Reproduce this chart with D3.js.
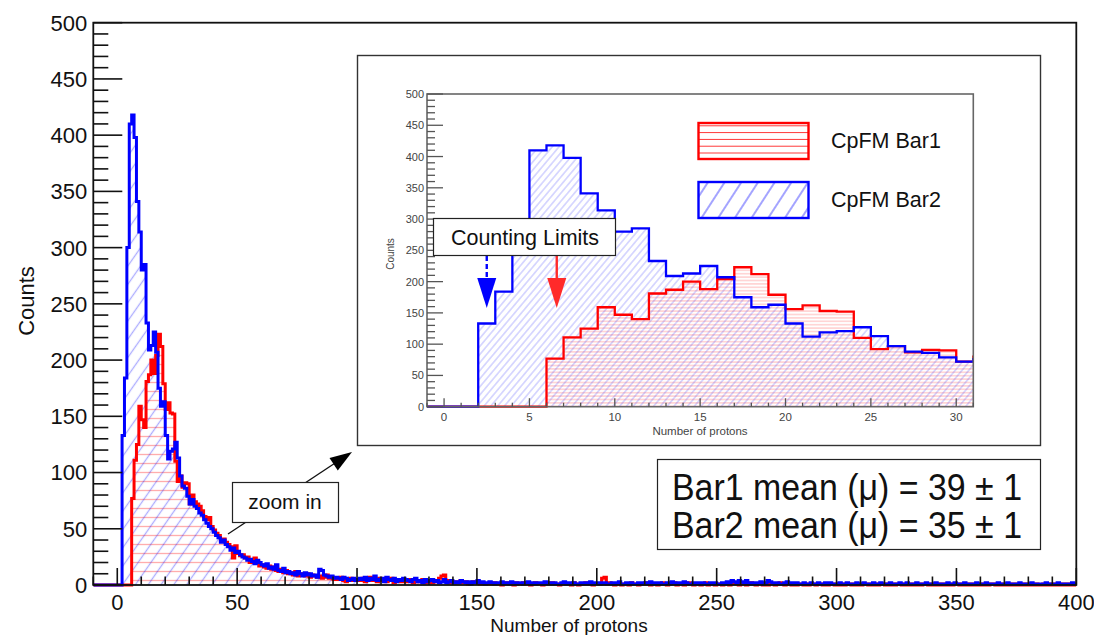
<!DOCTYPE html>
<html>
<head>
<meta charset="utf-8">
<script src="https://cdn.jsdelivr.net/npm/d3@7"></script>
<style>
  html, body { margin: 0; padding: 0; background: #fff; }
  svg { display: block; font-family: "Liberation Sans", Arial, Helvetica, sans-serif; }
</style>
</head>
<body>
<svg id="chart" width="1094" height="635"></svg>
<script>
// ---- Counts per 1-proton bin, bin i covers [i, i+1) ----
// CpFM Bar1, bins 0..30
const bar1Head = [0, 0, 0, 0, 0, 0, 77, 111, 125, 159, 147, 140, 181, 187, 200, 188,
  204, 223, 212, 179, 156, 162, 153, 152, 110, 92, 97, 87, 91, 90, 72];
// CpFM Bar1, bins 31..100
const bar1Mid = [80, 74, 72, 70, 66, 61, 58, 60, 52, 49,
  46, 44, 40, 41, 38, 36, 34, 24, 35, 28,
  26, 27, 24, 25, 20, 22, 24, 21, 17, 18,
  16, 15, 17, 14, 16, 13, 12, 14, 11, 13,
  10, 11, 9, 12, 8, 10, 9, 8, 10, 7,
  9, 8, 7, 8, 6, 7, 9, 6, 7, 5,
  6, 5, 7, 4, 3, 5, 6, 4, 5, 4];
// CpFM Bar1, bins 101..399
const bar1Tail = [4, 6, 3, 5, 7, 4, 5, 3, 6, 4, 5, 3, 4, 6, 2, 5, 4, 3, 5, 3,
  4, 5, 2, 3, 4, 3, 5, 2, 4, 3, 2, 4, 3, 6, 8, 9, 4, 2, 3, 2,
  3, 2, 4, 2, 3, 1, 2, 3, 2, 3,
  1, 2, 1, 1, 2, 1, 2, 1, 1, 0, 1, 2, 1, 1, 0, 2, 1, 1, 2, 1,
  1, 0, 1, 2, 1, 1, 0, 1, 2, 1, 2, 1, 1, 0, 1, 2, 1, 1, 0, 2,
  1, 0, 1, 1, 2, 1, 1, 0, 1, 1, 1, 6, 7, 1, 2, 1, 0, 1, 1, 0,
  1, 1, 0, 2, 1, 1, 0, 1, 1, 2, 1, 0, 1, 1, 0, 1, 2, 1, 0, 1,
  1, 2, 0, 1, 1, 0, 1, 2, 1, 0, 1, 1, 0, 1, 2, 0, 1, 1, 0, 1,
  1, 0, 1, 1, 0, 1, 2, 1, 0, 1, 1, 0, 1, 2, 1, 0, 1, 1, 0, 1,
  0, 1, 1, 0, 1, 2, 1, 0, 1, 1, 0, 1, 0, 1, 1, 0, 1, 0, 1, 1,
  0, 1, 1, 0, 1, 0, 1, 1, 0, 1, 0, 1, 0, 1, 1, 0, 1, 0, 1, 0,
  1, 1, 0, 1, 0, 1, 0, 1, 1, 0, 1, 0, 1, 0, 1, 1, 0, 1, 0, 1,
  0, 1, 0, 1, 0, 1, 1, 0, 1, 0, 1, 0, 1, 0, 1, 0, 1, 0, 1, 1,
  0, 1, 0, 1, 0, 1, 0, 1, 0, 1, 0, 1, 0, 1, 1, 0, 1, 0, 1, 0,
  1, 0, 1, 0, 1, 0, 1, 0, 1, 0, 1, 0, 1, 0, 0, 1, 0, 1, 0, 1,
  0, 1, 0, 1, 0, 1, 0, 1, 0];
// CpFM Bar2, bins 0..30
const bar2Head = [0, 0, 133, 184, 300, 410, 418, 398, 341, 314, 280, 285, 233, 209, 213, 225,
  207, 175, 159, 163, 133, 112, 119, 121, 127, 113, 97, 88, 86, 79, 72];
// CpFM Bar2, bins 31..100
const bar2Mid = [76, 70, 68, 64, 62, 58, 55, 52, 50, 47,
  44, 42, 38, 40, 36, 34, 31, 33, 29, 30,
  27, 25, 24, 22, 23, 21, 19, 22, 20, 18,
  17, 19, 15, 16, 14, 18, 13, 12, 15, 11,
  12, 10, 11, 9, 12, 10, 8, 11, 9, 10,
  8, 9, 7, 14, 13, 9, 8, 7, 8, 6,
  7, 6, 5, 7, 6, 4, 5, 6, 4, 5];
// CpFM Bar2, bins 101..399
const bar2Tail = [6, 5, 7, 4, 6, 5, 8, 4, 5, 6, 3, 7, 5, 4, 6, 3, 5, 4, 6, 5,
  4, 3, 5, 6, 3, 4, 2, 5, 3, 4, 5, 3, 4, 2, 3, 5, 2, 3, 4, 2,
  3, 2, 4, 3, 2, 3, 1, 3, 2, 4,
  2, 3, 1, 2, 3, 2, 1, 2, 2, 3, 1, 2, 1, 3, 2, 1, 2, 2, 1, 2,
  3, 1, 2, 1, 2, 2, 1, 3, 1, 2, 1, 2, 1, 1, 2, 3, 1, 2, 1, 2,
  1, 1, 2, 1, 2, 1, 3, 1, 2, 1, 2, 1, 2, 1, 1, 2, 1, 2, 3, 1,
  1, 2, 1, 2, 1, 1, 2, 1, 2, 1, 2, 3, 1, 2, 1, 2, 1, 1, 2, 1,
  3, 2, 1, 2, 1, 3, 2, 1, 1, 2, 1, 2, 1, 2, 1, 1, 2, 1, 2, 1,
  1, 2, 1, 3, 2, 4, 3, 2, 4, 3, 2, 4, 2, 1, 2, 1, 2, 3, 1, 2,
  4, 3, 2, 1, 2, 1, 1, 2, 3, 1, 2, 1, 2, 1, 1, 2, 1, 1, 2, 1,
  1, 2, 1, 1, 2, 1, 2, 1, 1, 1, 2, 1, 1, 2, 1, 1, 1, 2, 1, 1,
  2, 1, 1, 1, 2, 1, 1, 2, 1, 1, 1, 2, 1, 1, 1, 2, 1, 1, 2, 1,
  1, 1, 2, 1, 1, 1, 2, 1, 1, 1, 2, 1, 1, 1, 1, 2, 1, 1, 2, 1,
  1, 1, 2, 1, 1, 1, 1, 2, 1, 1, 1, 2, 1, 1, 1, 1, 2, 1, 1, 1,
  2, 1, 1, 1, 1, 2, 1, 1, 1, 1, 2, 1, 1, 1, 1, 1, 2, 1, 1, 1,
  1, 2, 1, 1, 1, 1, 1, 2, 1];

const seriesNames = ["CpFM Bar1", "CpFM Bar2"];
const seriesColors = ["#ff0000", "#0000ff"];
const mainXTicks = [0, 50, 100, 150, 200, 250, 300, 350, 400];
const mainYTicks = [0, 50, 100, 150, 200, 250, 300, 350, 400, 450, 500];
const insetXTicks = [0, 5, 10, 15, 20, 25, 30];
const insetYTicks = [0, 50, 100, 150, 200, 250, 300, 350, 400, 450, 500];
const countingLimits = [6.6, 2.5];          // Bar1, Bar2
const meanLines = ["Bar1 mean (\u03bc) = 39 \u00b1 1", "Bar2 mean (\u03bc) = 35 \u00b1 1"];

const bar1 = bar1Head.concat(bar1Mid, bar1Tail);
const bar2 = bar2Head.concat(bar2Mid, bar2Tail);
const series = [bar1, bar2];

const svg = d3.select("#chart");
const defs = svg.append("defs");

// hatch pattern: parallel lines, rotated by `angle` (deg, counter-clockwise)
function hatch(id, color, angle, spacing, opacity, width) {
  const p = defs.append("pattern")
    .attr("id", id)
    .attr("patternUnits", "userSpaceOnUse")
    .attr("width", spacing).attr("height", spacing)
    .attr("patternTransform", `rotate(${-angle})`);
  p.append("line")
    .attr("x1", 0).attr("x2", spacing)
    .attr("y1", spacing / 2).attr("y2", spacing / 2)
    .attr("stroke", color).attr("stroke-opacity", opacity)
    .attr("stroke-width", width);
}
hatch("hRedMain", "#ff0000", 0, 9, 0.32, 1.3);
hatch("hBlueMain", "#0000ff", 55, 10.5, 0.32, 1.3);
hatch("hRedInset", "#ff0000", 0, 3.4, 0.28, 1);
hatch("hBlueInset", "#0000ff", 50, 5.2, 0.28, 1);
hatch("hRedLegend", "#ff0000", 0, 6.8, 0.8, 1);
hatch("hBlueLegend", "#0000ff", 57, 14, 0.6, 1.2);

// step outline of a histogram starting at the axis minimum
function histPoints(counts, xStart) {
  const pts = [[xStart, 0], [0, 0]];
  counts.forEach((c, i) => { pts.push([i, c], [i + 1, c]); });
  return pts;
}

function drawHist(g, x, y, xStart, lineW, patterns, clipId) {
  const line = d3.line().x(d => x(d[0])).y(d => y(d[1]));
  const area = d3.area().x(d => x(d[0])).y0(y(0)).y1(d => y(d[1]));
  const layer = g.append("g").attr("clip-path", `url(#${clipId})`);
  series.forEach((s, k) => {
    layer.append("path").attr("d", area(histPoints(s, xStart)))
      .attr("fill", `url(#${patterns[k]})`).attr("stroke", "none");
  });
  series.forEach((s, k) => {
    layer.append("path").attr("d", line(histPoints(s, xStart)))
      .attr("fill", "none").attr("stroke", seriesColors[k])
      .attr("stroke-width", lineW).attr("stroke-linejoin", "miter");
  });
}

// ================= main frame =================
const M = { left: 93.3, right: 1076.3, top: 22.7, bottom: 585 };
const x = d3.scaleLinear().domain([-10, 400]).range([M.left, M.right]);
const y = d3.scaleLinear().domain([0, 500]).range([M.bottom, M.top]);

defs.append("clipPath").attr("id", "clipMain").append("rect")
  .attr("x", M.left).attr("y", M.top - 2)
  .attr("width", M.right - M.left).attr("height", M.bottom - M.top + 4);

const gMain = svg.append("g");
drawHist(gMain, x, y, -10, 3, ["hRedMain", "hBlueMain"], "clipMain");

// frame
gMain.append("rect").attr("x", M.left).attr("y", M.top)
  .attr("width", M.right - M.left).attr("height", M.bottom - M.top)
  .attr("fill", "none").attr("stroke", "#111").attr("stroke-width", 1.8);

// y axis ticks (inside)
const yMinor = d3.range(0, 501, 10).filter(v => v % 50 !== 0);
gMain.selectAll(".ymaj").data(mainYTicks).join("line")
  .attr("x1", M.left).attr("x2", M.left + 29)
  .attr("y1", d => y(d)).attr("y2", d => y(d))
  .attr("stroke", "#111").attr("stroke-width", 1.6);
gMain.selectAll(".ymin").data(yMinor).join("line")
  .attr("x1", M.left).attr("x2", M.left + 15)
  .attr("y1", d => y(d)).attr("y2", d => y(d))
  .attr("stroke", "#111").attr("stroke-width", 1.6);
gMain.selectAll(".ylab").data(mainYTicks).join("text")
  .attr("x", M.left - 6).attr("y", d => y(d)).attr("dy", "0.36em")
  .attr("text-anchor", "end").attr("font-size", 22).attr("fill", "#111")
  .text(d => d);

// x axis ticks (inside)
const xMinor = d3.range(-10, 401, 10).filter(v => v % 50 !== 0);
gMain.selectAll(".xmaj").data(mainXTicks).join("line")
  .attr("x1", d => x(d)).attr("x2", d => x(d))
  .attr("y1", M.bottom).attr("y2", M.bottom - 17)
  .attr("stroke", "#111").attr("stroke-width", 1.6);
gMain.selectAll(".xmin").data(xMinor).join("line")
  .attr("x1", d => x(d)).attr("x2", d => x(d))
  .attr("y1", M.bottom).attr("y2", M.bottom - 8.5)
  .attr("stroke", "#111").attr("stroke-width", 1.6);
gMain.selectAll(".xlab").data(mainXTicks).join("text")
  .attr("x", d => x(d)).attr("y", 609.5)
  .attr("text-anchor", "middle").attr("font-size", 22).attr("fill", "#111")
  .text(d => d);

gMain.append("text").attr("x", 569).attr("y", 632)
  .attr("text-anchor", "middle").attr("font-size", 19).attr("fill", "#111")
  .text("Number of protons");
gMain.append("text").attr("transform", "translate(33.5,301) rotate(-90)")
  .attr("text-anchor", "middle").attr("font-size", 22).attr("fill", "#111")
  .text("Counts");

// ---- "zoom in" annotation ----
const arrowLen = 22, arrowHalf = 7.5;
function arrowHead(g, x1, y1, x2, y2, color) {
  const a = Math.atan2(y2 - y1, x2 - x1);
  const bx = x2 - arrowLen * Math.cos(a), by = y2 - arrowLen * Math.sin(a);
  const px = -Math.sin(a) * arrowHalf, py = Math.cos(a) * arrowHalf;
  g.append("path")
    .attr("d", `M${x2},${y2}L${bx + px},${by + py}L${bx - px},${by - py}Z`)
    .attr("fill", color);
}
gMain.append("line").attr("x1", 228).attr("y1", 534).attr("x2", 345).attr("y2", 456.5)
  .attr("stroke", "#111").attr("stroke-width", 1.3);
arrowHead(gMain, 228, 534, 352, 452, "#000");
gMain.append("rect").attr("x", 232.5).attr("y", 482.5).attr("width", 106).attr("height", 40)
  .attr("fill", "#fff").attr("stroke", "#222").attr("stroke-width", 1.2);
gMain.append("text").attr("x", 285).attr("y", 509)
  .attr("text-anchor", "middle").attr("font-size", 21).attr("fill", "#111")
  .text("zoom in");

// ---- mean box ----
gMain.append("rect").attr("x", 657.5).attr("y", 459.5).attr("width", 383).attr("height", 90)
  .attr("fill", "#fff").attr("stroke", "#222").attr("stroke-width", 1.2);
gMain.selectAll(".mean").data(meanLines).join("text")
  .attr("x", 672).attr("y", (d, i) => 500 + i * 37.5)
  .attr("font-size", 36).attr("fill", "#111")
  .attr("textLength", 350).attr("lengthAdjust", "spacingAndGlyphs")
  .text(d => d);

// ================= zoomed-in panel =================
const P = { left: 427, right: 973.3, top: 94, bottom: 406.7 };
const xi = d3.scaleLinear().domain([-1, 31]).range([P.left, P.right]);
const yi = d3.scaleLinear().domain([0, 500]).range([P.bottom, P.top]);

const gIn = svg.append("g");
gIn.append("rect").attr("x", 357.5).attr("y", 55.5).attr("width", 683).attr("height", 390)
  .attr("fill", "#fff").attr("stroke", "#333").attr("stroke-width", 1.4);

defs.append("clipPath").attr("id", "clipInset").append("rect")
  .attr("x", P.left).attr("y", P.top)
  .attr("width", P.right - P.left).attr("height", P.bottom - P.top + 1.5);

drawHist(gIn, xi, yi, -1, 2.3, ["hRedInset", "hBlueInset"], "clipInset");

gIn.append("rect").attr("x", P.left).attr("y", P.top)
  .attr("width", P.right - P.left).attr("height", P.bottom - P.top)
  .attr("fill", "none").attr("stroke", "#666").attr("stroke-width", 1.6);

const axisGrey = "#555";
const yiMinor = d3.range(0, 501, 10).filter(v => v % 50 !== 0);
gIn.selectAll(".yimaj").data(insetYTicks).join("line")
  .attr("x1", P.left).attr("x2", P.left + 16)
  .attr("y1", d => yi(d)).attr("y2", d => yi(d))
  .attr("stroke", axisGrey).attr("stroke-width", 1.3);
gIn.selectAll(".yimin").data(yiMinor).join("line")
  .attr("x1", P.left).attr("x2", P.left + 8)
  .attr("y1", d => yi(d)).attr("y2", d => yi(d))
  .attr("stroke", axisGrey).attr("stroke-width", 1.3);
gIn.selectAll(".yilab").data(insetYTicks).join("text")
  .attr("x", P.left - 3).attr("y", d => yi(d)).attr("dy", "0.36em")
  .attr("text-anchor", "end").attr("font-size", 11).attr("fill", "#444")
  .text(d => d);

const xiMinor = d3.range(-1, 32, 1).filter(v => v % 5 !== 0);
gIn.selectAll(".ximaj").data(insetXTicks).join("line")
  .attr("x1", d => xi(d)).attr("x2", d => xi(d))
  .attr("y1", P.bottom).attr("y2", P.bottom - 8.5)
  .attr("stroke", axisGrey).attr("stroke-width", 1.3);
gIn.selectAll(".ximin").data(xiMinor).join("line")
  .attr("x1", d => xi(d)).attr("x2", d => xi(d))
  .attr("y1", P.bottom).attr("y2", P.bottom - 4)
  .attr("stroke", axisGrey).attr("stroke-width", 1.3);
gIn.selectAll(".xilab").data(insetXTicks).join("text")
  .attr("x", d => xi(d)).attr("y", 421)
  .attr("text-anchor", "middle").attr("font-size", 11.5).attr("fill", "#444")
  .text(d => d);
gIn.append("text").attr("x", 700).attr("y", 434.5)
  .attr("text-anchor", "middle").attr("font-size", 11.5).attr("fill", "#444")
  .text("Number of protons");
gIn.append("text").attr("transform", "translate(394,254) rotate(-90)")
  .attr("text-anchor", "middle").attr("font-size", 10).attr("fill", "#444")
  .text("Counts");

// legend
const legendRows = [
  { y: 123, pat: "hRedLegend" },
  { y: 182, pat: "hBlueLegend" }
];
legendRows.forEach((r, k) => {
  gIn.append("rect").attr("x", 698.5).attr("y", r.y).attr("width", 110).attr("height", 36)
    .attr("fill", `url(#${r.pat})`).attr("stroke", seriesColors[k]).attr("stroke-width", 2.4);
  gIn.append("text").attr("x", 831).attr("y", r.y + 24.5)
    .attr("font-size", 21.5).attr("fill", "#111").text(seriesNames[k]);
});

// counting limit arrows (Bar1 solid red, Bar2 dashed blue)
const limitColors = ["#ff2a2a", "#0000ff"];
countingLimits.forEach((v, k) => {
  const cx = xi(v);
  gIn.append("line").attr("x1", cx).attr("x2", cx).attr("y1", 256).attr("y2", 281)
    .attr("stroke", limitColors[k]).attr("stroke-width", 2.4)
    .attr("stroke-dasharray", k === 1 ? "5,3" : null);
  gIn.append("path")
    .attr("d", `M${cx - 9.5},278L${cx + 9.5},278L${cx},${yi(158)}Z`)
    .attr("fill", limitColors[k]);
});
gIn.append("rect").attr("x", 433.5).attr("y", 218.5).attr("width", 182).attr("height", 37)
  .attr("fill", "#fff").attr("stroke", "#222").attr("stroke-width", 1.2);
gIn.append("text").attr("x", 525).attr("y", 245)
  .attr("text-anchor", "middle").attr("font-size", 21.5).attr("fill", "#111")
  .text("Counting Limits");
</script>
</body>
</html>
